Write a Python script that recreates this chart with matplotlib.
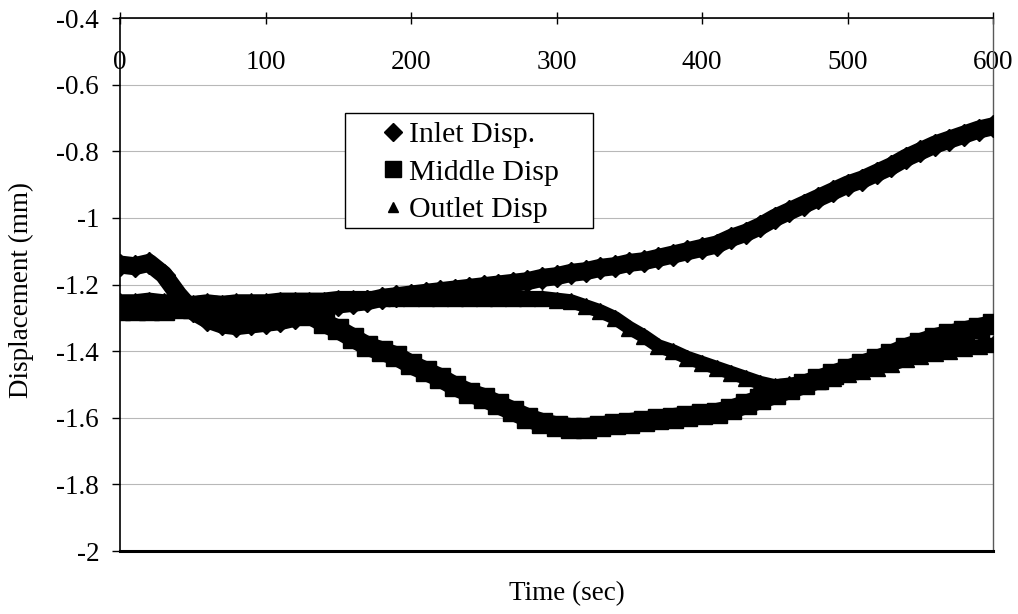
import numpy as np
import matplotlib
matplotlib.use('Agg')
import matplotlib.pyplot as plt
from matplotlib.lines import Line2D
from matplotlib.patches import Rectangle
from matplotlib.ticker import FuncFormatter

plt.rcParams['font.family'] = ['Liberation Serif', 'DejaVu Serif']
plt.rcParams['axes.unicode_minus'] = False

# time in seconds, read every 10 s off the picture
time_s = list(range(0, 601, 10))

inlet = [-1.14, -1.145, -1.135, -1.17, -1.23, -1.28, -1.305, -1.32, -1.325, -1.32,
         -1.315, -1.31, -1.30, -1.285, -1.27, -1.26, -1.255, -1.25, -1.24, -1.235,
         -1.23, -1.225, -1.22, -1.215, -1.21, -1.205, -1.20, -1.195, -1.19, -1.18,
         -1.175, -1.165, -1.16, -1.15, -1.145, -1.135, -1.13, -1.12, -1.11, -1.10,
         -1.09, -1.08, -1.06, -1.045, -1.025, -1.00, -0.98, -0.96, -0.94, -0.92,
         -0.90, -0.885, -0.865, -0.845, -0.82, -0.80, -0.78, -0.765, -0.75, -0.735,
         -0.725]

middle = [-1.275, -1.275, -1.275, -1.275, -1.27, -1.27, -1.265, -1.265, -1.265, -1.265,
          -1.265, -1.265, -1.27, -1.29, -1.315, -1.335, -1.36, -1.385, -1.40, -1.415,
          -1.44, -1.46, -1.48, -1.505, -1.525, -1.54, -1.56, -1.58, -1.60, -1.615,
          -1.625, -1.63, -1.63, -1.625, -1.62, -1.615, -1.61, -1.605, -1.60, -1.595,
          -1.59, -1.585, -1.575, -1.56, -1.545, -1.53, -1.515, -1.50, -1.485, -1.47,
          -1.455, -1.44, -1.425, -1.41, -1.39, -1.375, -1.36, -1.35, -1.34, -1.33,
          -1.32]

outlet = [-1.25, -1.25, -1.245, -1.25, -1.25, -1.255, -1.25, -1.255, -1.25, -1.25,
          -1.25, -1.245, -1.245, -1.245, -1.245, -1.24, -1.24, -1.24, -1.24, -1.24,
          -1.24, -1.24, -1.24, -1.24, -1.24, -1.24, -1.24, -1.24, -1.24, -1.24,
          -1.245, -1.25, -1.265, -1.28, -1.30, -1.33, -1.355, -1.385, -1.40, -1.42,
          -1.435, -1.45, -1.465, -1.48, -1.495, -1.505, -1.50, -1.495, -1.49, -1.48,
          -1.47, -1.46, -1.45, -1.44, -1.425, -1.415, -1.405, -1.40, -1.39, -1.385,
          -1.38]

labels = ['Inlet Disp.', 'Middle Disp', 'Outlet Disp']

fig = plt.figure(figsize=(10.18, 6.14), dpi=100)
ax = fig.add_axes([0.1179, 0.1026, 0.8576, 0.868])

ax.plot(time_s, inlet, color='black', lw=13, marker='D', ms=11,
        solid_capstyle='round', solid_joinstyle='round', zorder=3)
ax.plot(time_s, middle, color='black', lw=14, marker='s', ms=15,
        solid_capstyle='round', solid_joinstyle='round', zorder=3)
ax.plot(time_s, outlet, color='black', lw=10, marker='^', ms=11,
        solid_capstyle='round', solid_joinstyle='round', zorder=3)

ax.set_xlim(0, 600)
ax.set_ylim(-2, -0.4)
ax.set_xticks(np.arange(0, 601, 100))
ax.set_yticks(np.arange(-2, -0.39, 0.2))
ax.yaxis.set_major_formatter(FuncFormatter(lambda v, p: '%g' % round(v, 1)))

ax.yaxis.grid(True, color='0.72', lw=0.8)
ax.set_axisbelow(True)

ax.tick_params(axis='x', top=True, bottom=False, labeltop=True, labelbottom=False,
               direction='inout', length=8, width=1, pad=-45, labelsize=19.5)
ax.tick_params(axis='y', direction='out', length=6, width=1, pad=9, labelsize=19.5)

for s in ['top', 'left']:
    ax.spines[s].set_linewidth(1.2)
ax.spines['bottom'].set_linewidth(2.2)
ax.spines['right'].set_linewidth(1.0)
ax.spines['right'].set_color('0.35')

ax.set_xlabel('Time (sec)', fontsize=19.5)
ax.xaxis.set_label_coords(0.512, -0.056)
ax.set_ylabel('Displacement (mm)', fontsize=19.5)
ax.yaxis.set_label_coords(-0.098, 0.49)

# legend box, Excel style
ax.add_patch(Rectangle((0.2577, 0.606), 0.2841, 0.2158, transform=ax.transAxes,
                       facecolor='white', edgecolor='black', lw=1.0, zorder=5))
handles = [Line2D([], [], ls='none', marker='D', ms=8.7, color='black'),
           Line2D([], [], ls='none', marker='s', ms=12, color='black'),
           Line2D([], [], ls='none', marker='^', ms=6.5, color='black')]
leg = ax.legend(handles, labels, loc='upper left', bbox_to_anchor=(0.2955, 0.8065),
                frameon=False, fontsize=21.5, borderpad=0, borderaxespad=0,
                handlelength=1.0, handletextpad=0.05, labelspacing=0.36)
leg.set_zorder(6)

fig.savefig('out.png', dpi=100)
